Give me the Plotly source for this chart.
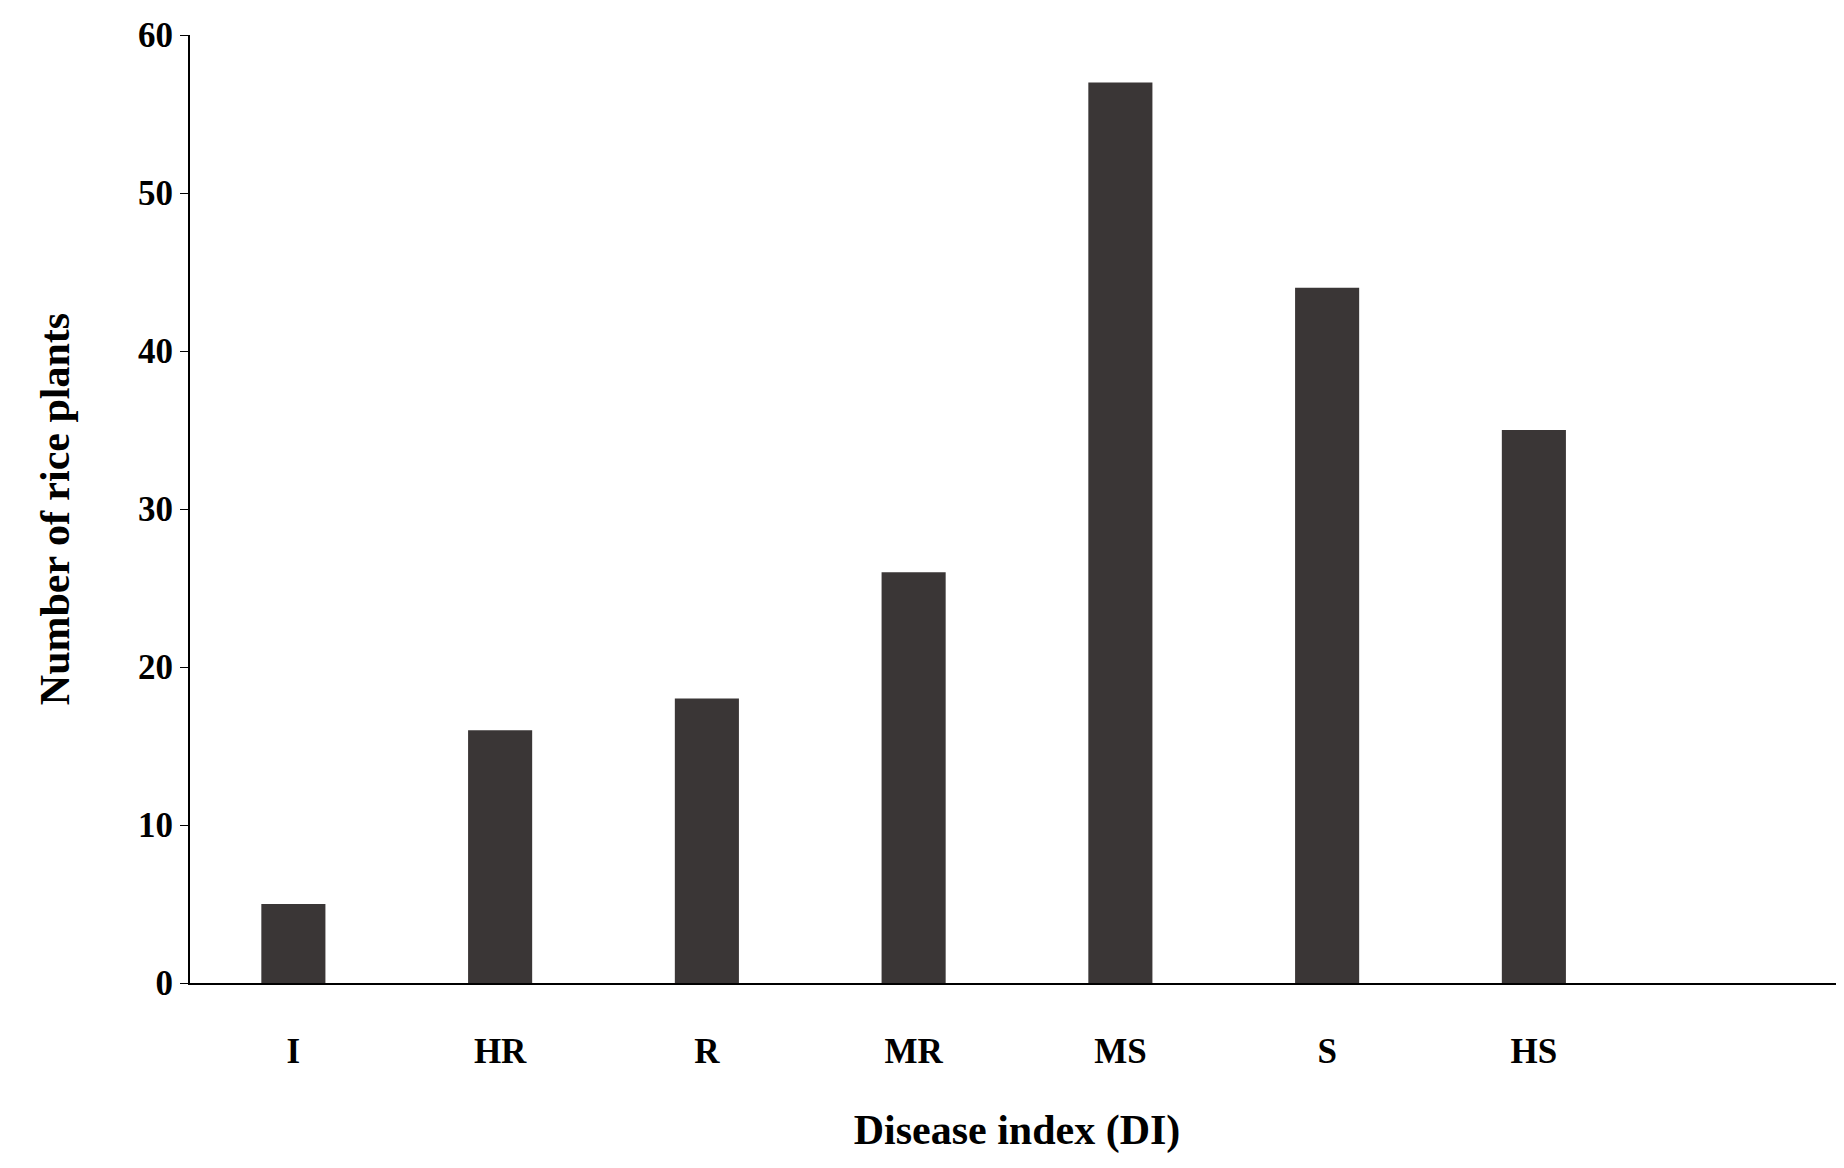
import plotly.graph_objects as go

categories = ["I", "HR", "R", "MR", "MS", "S", "HS"]
values = [5, 16, 18, 26, 57, 44, 35]
y_ticks = [0, 10, 20, 30, 40, 50, 60]

font = dict(family="Liberation Serif", size=35, color="black")
fig = go.Figure(go.Bar(x=list(range(len(categories))), y=values, marker_color="#3a3636",
                       marker_line_width=0, width=0.31))
fig.update_layout(
    width=1844, height=1168, plot_bgcolor="white", paper_bgcolor="white",
    margin=dict(l=182, r=8, t=20, b=193), font=font, showlegend=False,
    xaxis=dict(range=[-0.5, 7.5], tickvals=list(range(len(categories))), ticktext=[f"<b>{c}</b>" for c in categories],
               showline=True, linecolor="black", linewidth=2, ticks="outside", ticklen=36,
               tickcolor="rgba(0,0,0,0)", showgrid=False,
               title=dict(text="<b>Disease index (DI)</b>", standoff=45)),
    yaxis=dict(range=[0, 60], tickvals=y_ticks, ticktext=[f"<b>{v}</b>" for v in y_ticks],
               showline=True, linecolor="black", linewidth=2, ticks="outside", ticklen=8,
               tickcolor="black", showgrid=False, zeroline=False,
               title=dict(text="<b>Number of rice plants</b>", standoff=55)),
)
fig.write_html("out.html")
